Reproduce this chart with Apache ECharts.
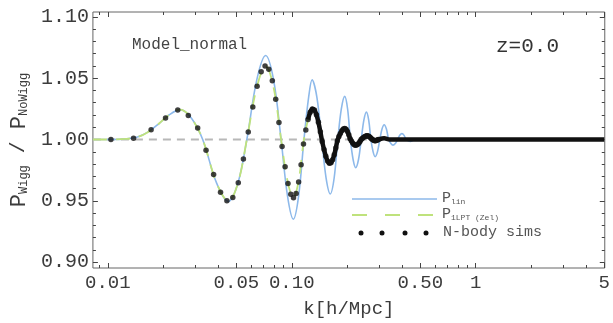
<!DOCTYPE html>
<html><head><meta charset="utf-8">
<script src="https://cdn.jsdelivr.net/npm/echarts@6/dist/echarts.min.js"></script>
<style>html,body{margin:0;padding:0;background:#fff}#c{width:613px;height:323px}</style>
</head><body><div id="c"></div>
<script>
// ---------- data ----------
const xMajorTicks = [0.01, 0.05, 0.1, 0.5, 1, 5];
const xMajorText  = ["0.01", "0.05", "0.10", "0.50", "1", "5"];
const xMinorTicks = [0.009, 0.02, 0.03, 0.04, 0.06, 0.07, 0.08, 0.09,
                     0.2, 0.3, 0.4, 0.6, 0.7, 0.8, 0.9, 2, 3, 4];
const yMajorTicks = [0.90, 0.95, 1.00, 1.05, 1.10];
const yMinorTicks = [0.91, 0.92, 0.93, 0.94, 0.96, 0.97, 0.98, 0.99,
                     1.01, 1.02, 1.03, 1.04, 1.06, 1.07, 1.08, 1.09];

// P_lin (linear theory)
const kLin = [0.0083,0.0104,0.0125,0.0145,0.0165,0.019,0.0215,0.0247,0.0285,0.0328,0.039,0.0453,0.051,0.057,
  0.0645,0.0721,0.0797,0.0875,0.0948,0.102,0.109,0.1165,0.1235,0.129,0.137,0.1455,0.1537,0.162,0.170,0.178,
  0.186,0.194,0.2012,0.2083,0.2155,0.2226,0.2306,0.2386,0.2466,0.2546,0.262,0.2693,0.2767,0.284,0.2925,0.301,
  0.3095,0.318,0.327,0.3365,0.346,0.355,0.3655,0.376,0.3865,0.397,0.408,0.4185,0.44,0.47,0.6];
const pLin = [1.000,1.000,1.0005,1.002,1.006,1.013,1.020,1.0244,1.0173,1.000,0.9646,0.9495,0.9645,1.000,
  1.0484,1.0685,1.0484,1.000,0.954,0.935,0.954,1.000,1.0344,1.0486,1.0344,1.000,0.9686,0.9556,0.9686,1.000,
  1.0249,1.0352,1.0249,1.000,0.9837,0.977,0.9837,1.000,1.0158,1.0223,1.0158,1.000,0.9901,0.986,0.9901,1.000,
  1.0085,1.012,1.0085,1.000,0.9967,0.9954,0.9967,1.000,1.0034,1.0048,1.0034,1.000,0.9985,1.000,1.000];

// P_1LPT (Zel)
const kZel = [0.0083,0.0104,0.0125,0.0145,0.0165,0.019,0.0215,0.0247,0.0285,0.0328,0.039,0.0453,0.051,0.057,
  0.0645,0.0721,0.0797,0.0875,0.0948,0.102,0.109,0.1165,0.1235,0.130,0.1378,0.1455,0.1532,0.161,0.1692,0.1775,
  0.1858,0.194,0.2012,0.2083,0.2155,0.2226,0.2306,0.2386,0.2478,0.257,0.2705,0.284,0.301,0.318,0.34,0.6];
const pZel = [1.000,1.000,1.0005,1.002,1.006,1.013,1.020,1.0244,1.0173,1.000,0.9646,0.9498,0.9645,1.000,
  1.0424,1.060,1.0424,1.000,0.9663,0.9524,0.9663,1.000,1.0177,1.025,1.0177,1.000,0.9863,0.9806,0.9863,1.000,
  1.0063,1.0089,1.0063,1.000,0.9967,0.9954,0.9967,1.000,1.0021,1.003,1.000,0.9985,1.000,1.001,1.000,1.000];

// N-body sims (individual points)
const kSim = [0.0104,0.0138,0.0172,0.0206,0.024,0.0274,0.0308,0.0342,0.0376,0.041,0.0444,0.0478,0.0512,0.0546,
  0.058,0.0614,0.0648,0.0682,0.0716,0.075,0.0784,0.0818,0.0852,0.0886,0.092,0.0954,0.0988,0.1022,0.1056,0.109,
  0.1124,0.1158,0.1192,0.1226,0.126,0.1294,0.1328,0.1362,0.1396,0.143,0.1464,0.1498,0.1532,0.1566,0.16,0.1634,
  0.1668,0.1702,0.1736,0.177,0.1804,0.1838,0.1872,0.1906,0.194,0.1974,0.2008,0.2042,0.2076,0.211,0.2144,0.2178,
  0.2212,0.2246,0.228,0.2314,0.2348,0.2382,0.2416,0.245,0.2484,0.2518,0.2552,0.2586,0.262,0.2654,0.2688,0.2722,
  0.2756,0.279,0.2824,0.2858,0.2892,0.2926,0.296];
const pSim = [1.000,1.001,1.008,1.0175,1.024,1.0195,1.0093,0.9912,0.9715,0.957,0.9501,0.9526,0.9647,0.9841,
  1.0062,1.0265,1.0435,1.0552,1.0599,1.0574,1.048,1.0329,1.0139,0.9943,0.9777,0.9641,0.9553,0.9524,0.956,0.9654,
  0.9795,0.9964,1.0077,1.0163,1.0223,1.0249,1.024,1.0202,1.0141,1.0063,0.9983,0.9918,0.9863,0.9825,0.9806,0.9811,
  0.9835,0.9876,0.993,0.999,1.0024,1.005,1.0071,1.0085,1.0089,1.0083,1.0065,1.0039,1.0007,0.9987,0.9971,0.996,
  0.9954,0.9955,0.996,0.997,0.9983,1.000,1.0008,1.0016,1.0022,1.0027,1.003,1.003,1.0027,1.002,1.0013,1.0005,
  0.9998,0.9993,0.999,0.999,0.9993,0.9997,1.000];
// N-body sims, dense part (points merge into a thick band)
const kBand = [0.1226,0.126,0.1294,0.1328,0.1362,0.1396,0.143,0.1464,0.1498,0.1532,0.1566,0.16,0.1634,
  0.1668,0.1702,0.1736,0.177,0.1804,0.1838,0.1872,0.1906,0.194,0.1974,0.2008,0.2042,0.2076,0.211,0.2144,0.2178,
  0.2212,0.228,0.2348,0.2416,0.2484,0.2552,0.262,0.2688,0.2756,0.2824,0.2892,0.296,0.318,0.34,0.5,1,5];
const pBand = [1.0163,1.0223,1.0249,1.024,1.0202,1.0141,1.0063,0.9983,0.9918,0.9863,0.9825,0.9806,0.9811,
  0.9835,0.9876,0.993,0.999,1.0024,1.005,1.0071,1.0085,1.0089,1.0083,1.0065,1.0039,1.0007,0.9987,0.9971,0.996,
  0.9954,0.996,0.9983,1.0008,1.0022,1.003,1.0027,1.0013,0.9998,0.999,0.9993,1.000,1.001,1.000,1.000,1.000,1.000];

const kRef = [0.0083, 5];
const pRef = [1.0, 1.0];

// ---------- chart ----------
const X_MIN = 0.0083, X_MAX = 5.03, Y_MIN = 0.8952, Y_MAX = 1.104;
const zip = (a, b) => a.map((v, i) => [v, b[i]]);
const FONT = "Liberation Mono";
const TXT = "#3c3c3c";

function xAx(pos, ticks, len, labels) {
  return {
    type: 'log', position: pos, min: X_MIN, max: X_MAX, logBase: 10,
    axisLine: {show: false}, splitLine: {show: false},
    axisTick: {show: true, inside: true, length: len, customValues: ticks,
               lineStyle: {color: '#444', width: 1}},
    axisLabel: labels ? {
      show: true, customValues: ticks, margin: 5, fontFamily: FONT, fontSize: 19, color: TXT,
      formatter: v => { const i = xMajorTicks.findIndex(t => Math.abs(t - v) / t < 1e-6); return i >= 0 ? xMajorText[i] : ''; }
    } : {show: false},
    name: labels ? 'k[h/Mpc]' : '', nameLocation: 'middle', nameGap: 31,
    nameTextStyle: {fontFamily: FONT, fontSize: 19, color: TXT}
  };
}
function yAx(pos, ticks, len, labels) {
  return {
    type: 'value', position: pos, min: Y_MIN, max: Y_MAX,
    axisLine: {show: false}, splitLine: {show: false},
    axisTick: {show: true, inside: true, length: len, customValues: ticks,
               lineStyle: {color: '#444', width: 1}},
    axisLabel: labels ? {
      show: true, customValues: ticks, margin: 4, fontFamily: FONT, fontSize: 20, color: TXT,
      formatter: v => v.toFixed(2)
    } : {show: false},
    name: labels ? '{P|P}{s|Wigg}{n| / }{P|P}{s|NoWigg}' : '',
    nameLocation: 'middle', nameGap: 58, nameRotate: 90,
    nameTextStyle: {
      color: TXT,
      rich: {
        P: {fontFamily: FONT, fontSize: 22, color: TXT},
        s: {fontFamily: FONT, fontSize: 12, color: TXT, padding: [9, 0, 0, 0]},
        n: {fontFamily: FONT, fontSize: 20, color: TXT}
      }
    }
  };
}

const chart = echarts.init(document.getElementById('c'), null, {renderer: 'canvas'});
chart.setOption({
  animation: false,
  backgroundColor: '#fff',
  grid: {left: 92, right: 2, top: 12, bottom: 52, show: true, borderColor: '#666', borderWidth: 1, backgroundColor: 'transparent'},
  xAxis: [xAx('bottom', xMajorTicks, 5, true), xAx('bottom', xMinorTicks, 3, false),
          xAx('top', xMajorTicks, 5, false), xAx('top', xMinorTicks, 3, false)],
  yAxis: [yAx('left', yMajorTicks, 5, true), yAx('left', yMinorTicks, 3, false),
          yAx('right', yMajorTicks, 5, false), yAx('right', yMinorTicks, 3, false)],
  series: [
    {type: 'line', data: zip(kRef, pRef), symbol: 'none', silent: true, z: 1,
     lineStyle: {color: '#b8b8b8', width: 2, type: [8, 6]}},
    {type: 'line', name: 'P_lin', data: zip(kLin, pLin), symbol: 'none', smooth: 0.35, z: 2,
     lineStyle: {color: '#8db9ea', width: 1.6}},
    {type: 'line', name: 'P_1LPT', data: zip(kZel, pZel), symbol: 'none', smooth: 0.35, z: 3,
     lineStyle: {color: '#bfe27c', width: 1.8, type: [14, 9]}},
    {type: 'scatter', name: 'N-body sims', data: zip(kSim, pSim), symbol: 'circle', symbolSize: 5.5, z: 4,
     itemStyle: {color: '#111'}},
    {type: 'line', name: 'N-body band', data: zip(kBand, pBand), symbol: 'none', smooth: 0.3, z: 4,
     lineStyle: {color: '#111', width: 4.5}}
  ],
  graphic: [
    {type: 'text', left: 132, top: 37, style: {text: 'Model_normal', font: '16px "Liberation Mono"', fill: '#444'}},
    {type: 'text', left: 496, top: 36, style: {text: 'z=0.0', font: '21px "Liberation Mono"', fill: '#333'}},
    {type: 'line', shape: {x1: 352, y1: 199, x2: 437, y2: 199}, style: {stroke: '#8db9ea', lineWidth: 1.6}},
    {type: 'line', shape: {x1: 352, y1: 215, x2: 437, y2: 215}, style: {stroke: '#bfe27c', lineWidth: 1.8, lineDash: [15, 18]}},
    {type: 'circle', shape: {cx: 361, cy: 233, r: 2.5}, style: {fill: '#111'}},
    {type: 'circle', shape: {cx: 382, cy: 233, r: 2.5}, style: {fill: '#111'}},
    {type: 'circle', shape: {cx: 405, cy: 233, r: 2.5}, style: {fill: '#111'}},
    {type: 'circle', shape: {cx: 426, cy: 233, r: 2.5}, style: {fill: '#111'}},
    {type: 'text', left: 442, top: 191, style: {text: '{P|P}{s|lin}', rich: {
      P: {font: '15px "Liberation Mono"', fill: '#555'}, s: {font: '8px "Liberation Mono"', fill: '#555', padding: [6, 0, 0, 0]}}}},
    {type: 'text', left: 442, top: 207, style: {text: '{P|P}{s|1LPT (Zel)}', rich: {
      P: {font: '15px "Liberation Mono"', fill: '#555'}, s: {font: '8px "Liberation Mono"', fill: '#555', padding: [6, 0, 0, 0]}}}},
    {type: 'text', left: 443, top: 225, style: {text: 'N-body sims', font: '15px "Liberation Mono"', fill: '#555'}}
  ]
});
</script></body></html>
